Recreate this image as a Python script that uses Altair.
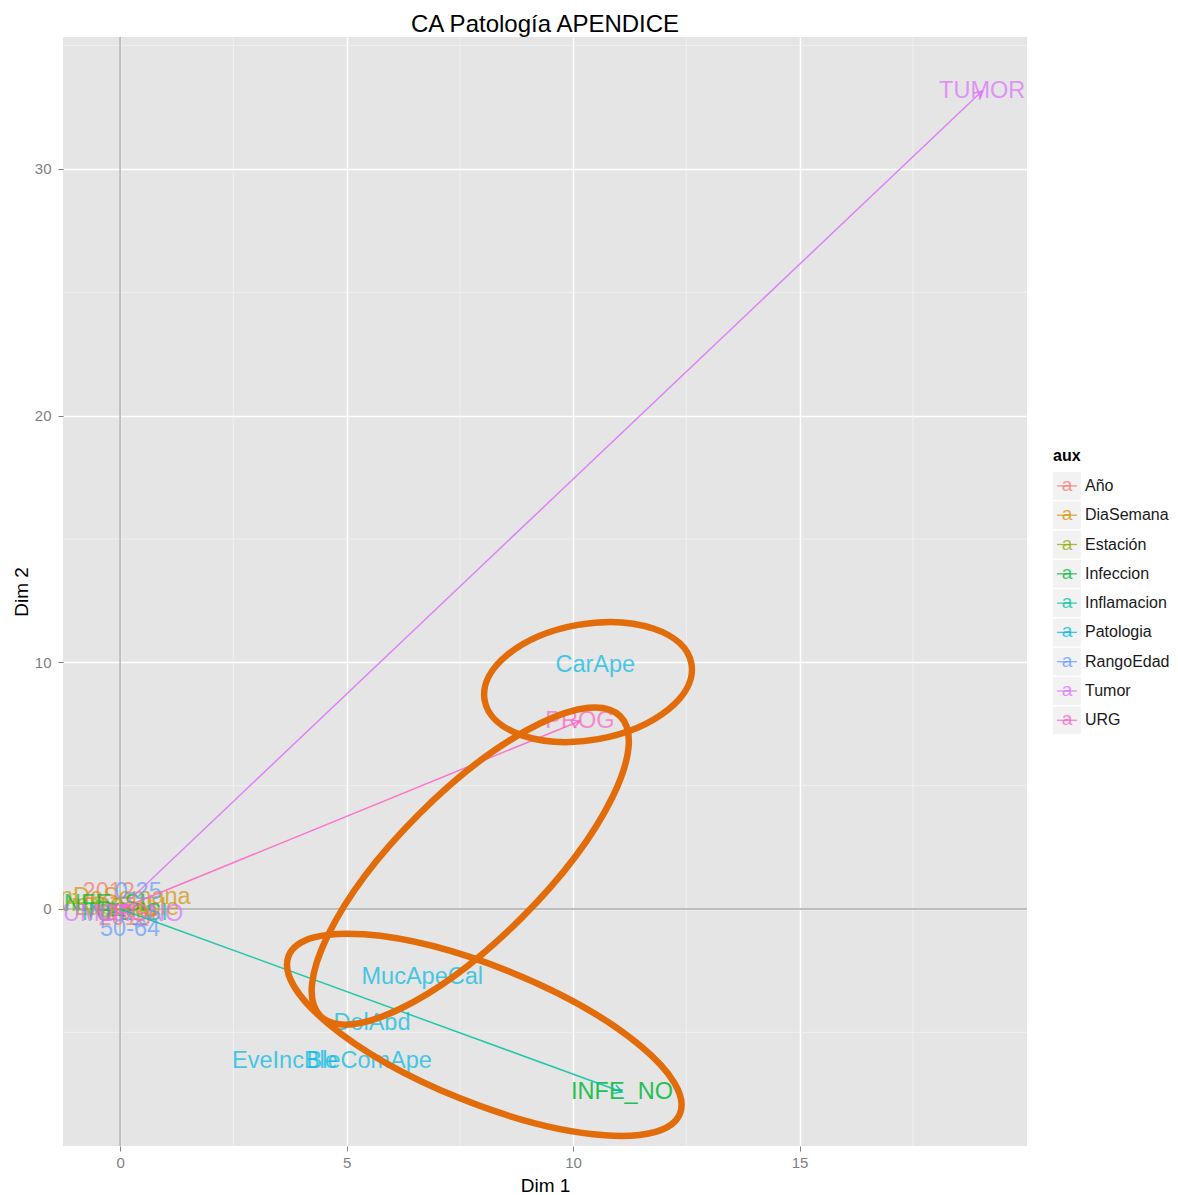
import math
import altair as alt
import pandas as pd

FONT = "Liberation Sans"

# factor groups and their hue colours
groups = ["Año", "DiaSemana", "Estación", "Infeccion", "Inflamacion",
          "Patologia", "RangoEdad", "Tumor", "URG"]
palette = ["#F8766D", "#D39200", "#93AA00", "#00BA38", "#00C19F",
           "#00B9E3", "#619CFF", "#DB72FB", "#FF61C3"]

# category coordinates on the first two CA dimensions
labels = ["2012", "2013", "2014", "FinDeSemana", "Laborable", "Invierno", "Verano",
          "INFE_SI", "INFE_NO", "INFL_SI", "CarApe", "MucApeCal", "DolAbd",
          "EveIncBle", "BleComApe", "0-25", "50-64", "TUMOR", "TUMOR_NO", "PROG", "URG"]
label_group = ["Año", "Año", "Año", "DiaSemana", "DiaSemana", "Estación", "Estación",
               "Infeccion", "Infeccion", "Inflamacion", "Patologia", "Patologia", "Patologia",
               "Patologia", "Patologia", "RangoEdad", "RangoEdad", "Tumor", "Tumor", "URG", "URG"]
dim1 = [-0.25, 0.10, 0.25, -0.10, 0.15, -0.85, 0.00,
        -0.40, 11.08, 0.10, 10.49, 6.67, 5.56,
        3.64, 5.50, 0.40, 0.22, 19.03, -0.09, 10.15, 0.05]
dim2 = [0.68, -0.35, -0.15, 0.50, 0.05, 0.20, -0.05,
        0.20, -7.42, -0.15, 9.90, -2.76, -4.62,
        -6.16, -6.16, 0.69, -0.81, 33.16, -0.20, 7.62, -0.20]
label_alpha = [0.7] * len(labels)
label_alpha[labels.index("INFE_NO")] = 0.85

# categories drawn as vectors from the origin
arrow_to = ["TUMOR", "PROG", "INFE_NO"]
arrow_group = ["Tumor", "URG", "Inflamacion"]

# highlighted regions (centre in data units, half-axes in pixels, tilt in degrees)
ring_x = [10.33, 7.73, 8.04]
ring_y = [9.20, 1.74, -5.10]
ring_rx = [105, 212, 211]
ring_ry = [58, 73, 68]
ring_tilt = [350, 315, 22]

x_ticks = [0, 5, 10, 15]
y_ticks = [0, 10, 20, 30]
x_minor = [2.5, 7.5, 12.5, 17.5]
y_minor = [-5, 5, 15, 25, 35]

XDOM = [-1.26, 20.02]
YDOM = [-9.61, 35.35]
W, H = 964, 1109

pts = pd.DataFrame({"label": labels, "aux": label_group, "d1": dim1, "d2": dim2,
                    "alpha": label_alpha})
lookup = {l: (a, b) for l, a, b in zip(labels, dim1, dim2)}

sx = W / (XDOM[1] - XDOM[0])
sy = H / (YDOM[1] - YDOM[0])
seg_rows = []
for name, g in zip(arrow_to, arrow_group):
    a, b = lookup[name]
    ang = (-math.degrees(math.atan2(b * sy, a * sx))) % 360
    seg_rows.append({"x0": 0.0, "y0": 0.0, "d1": a, "d2": b, "aux": g, "ang": ang})
segs = pd.DataFrame(seg_rows)


def ellipse_path(ratio):
    k = 0.5523
    r = ratio
    return (f"M 1 0 C 1 {k*r:.4f} {k:.4f} {r:.4f} 0 {r:.4f} "
            f"C {-k:.4f} {r:.4f} -1 {k*r:.4f} -1 0 "
            f"C -1 {-k*r:.4f} {-k:.4f} {-r:.4f} 0 {-r:.4f} "
            f"C {k:.4f} {-r:.4f} 1 {-k*r:.4f} 1 0 Z")


rings = pd.DataFrame({
    "d1": ring_x, "d2": ring_y,
    "shape": [ellipse_path(ry / rx) for rx, ry in zip(ring_rx, ring_ry)],
    "sz": [(2 * rx) ** 2 for rx in ring_rx],
    "ang": ring_tilt,
})

color = alt.Color("aux:N", scale=alt.Scale(domain=groups, range=palette), legend=None)

xs = alt.Scale(domain=XDOM, nice=False, zero=False)
ys = alt.Scale(domain=YDOM, nice=False, zero=False)
x_axis = alt.Axis(values=x_ticks, title="Dim 1", format="d", labelPadding=4, titlePadding=6)
y_axis = alt.Axis(values=y_ticks, title="Dim 2", format="d", labelPadding=7, titlePadding=3)


def X(field):
    return alt.X(field, type="quantitative", scale=xs, axis=x_axis)


def Y(field):
    return alt.Y(field, type="quantitative", scale=ys, axis=y_axis)


minor_v = alt.Chart(pd.DataFrame({"v": x_minor})).mark_rule(
    color="#F2F2F2", strokeWidth=0.8).encode(x=X("v"))
minor_h = alt.Chart(pd.DataFrame({"v": y_minor})).mark_rule(
    color="#F2F2F2", strokeWidth=0.8).encode(y=Y("v"))

zero_v = alt.Chart(pd.DataFrame({"v": [0]})).mark_rule(
    color="#ABABAB", strokeWidth=1.4).encode(x=X("v"))
zero_h = alt.Chart(pd.DataFrame({"v": [0]})).mark_rule(
    color="#ABABAB", strokeWidth=1.4).encode(y=Y("v"))

text = alt.Chart(pts).mark_text(
    font=FONT, fontSize=23.5, clip=True, baseline="middle"
).encode(x=X("d1"), y=Y("d2"), text="label:N", color=color,
         opacity=alt.Opacity("alpha:Q", scale=None))

lines = alt.Chart(segs).mark_rule(strokeWidth=1.5, opacity=0.85, clip=True).encode(
    x=X("x0"), y=Y("y0"), x2="d1", y2="d2", color=color)

heads = alt.Chart(segs).mark_point(
    shape="M -1 -0.55 L 0 0 L -1 0.55", filled=False, size=256,
    strokeWidth=1.5, opacity=0.85, clip=True
).encode(x=X("d1"), y=Y("d2"), color=color,
         angle=alt.Angle("ang:Q", scale=None))

circles = alt.Chart(rings).mark_point(
    filled=False, stroke="#E36C0A", strokeWidth=6.5, opacity=1
).encode(x=X("d1"), y=Y("d2"),
         shape=alt.Shape("shape:N", scale=None),
         size=alt.Size("sz:Q", scale=None),
         angle=alt.Angle("ang:Q", scale=None))

main = alt.layer(minor_v, minor_h, zero_v, zero_h, text, lines, heads, circles).properties(
    width=W, height=H,
    title=alt.TitleParams("CA Patología APENDICE", fontSize=24, fontWeight="normal",
                          font=FONT, color="#000000", anchor="middle", frame="group",
                          offset=-1),
    view=alt.ViewBackground(fill="#E5E5E5", stroke=None),
)

# legend panel: one key per group with the text glyph crossed by a line
leg = pd.DataFrame({"aux": groups})
leg_y = alt.Y("aux:N", sort=groups, axis=None,
              scale=alt.Scale(paddingInner=0.05, paddingOuter=0.44, align=0))
leg_box = alt.Chart(leg).mark_rect(color="#F2F2F2").encode(
    y=leg_y, x=alt.value(0), x2=alt.value(28))
leg_line = alt.Chart(leg).mark_point(shape="stroke", size=400, strokeWidth=1.3,
                                     opacity=0.75).encode(
    y=leg_y, x=alt.value(14), color=color)
leg_a = alt.Chart(leg).mark_text(text="a", font=FONT, fontSize=19, opacity=0.75,
                                 baseline="middle", dy=-1).encode(
    y=leg_y, x=alt.value(14), color=color)
leg_lab = alt.Chart(leg).mark_text(align="left", baseline="middle", font=FONT,
                                   fontSize=16, color="#1A1A1A").encode(
    y=leg_y, x=alt.value(32), text="aux:N")

legend = alt.layer(leg_box, leg_line, leg_a, leg_lab).properties(
    width=118, height=288,
    title=alt.TitleParams("aux", fontSize=16, fontWeight="bold", font=FONT,
                          color="#000000", anchor="start", offset=8),
    view=alt.ViewBackground(stroke=None),
)

chart = alt.hconcat(main, legend, spacing=25, center=True).properties(
    padding={"left": 12, "top": 13, "right": 0, "bottom": 3},
    background="#FFFFFF",
).configure_view(stroke=None).configure_axis(
    labelFont=FONT, labelFontSize=15, labelColor="#7F7F7F",
    tickColor="#7F7F7F", tickSize=5, tickWidth=1, domain=False,
    titleFont=FONT, titleFontSize=19, titleFontWeight="normal", titleColor="#000000",
    gridColor="#FFFFFF", gridWidth=1.5,
)

chart.save("out.html", embed_options={"renderer": "svg", "actions": False})
